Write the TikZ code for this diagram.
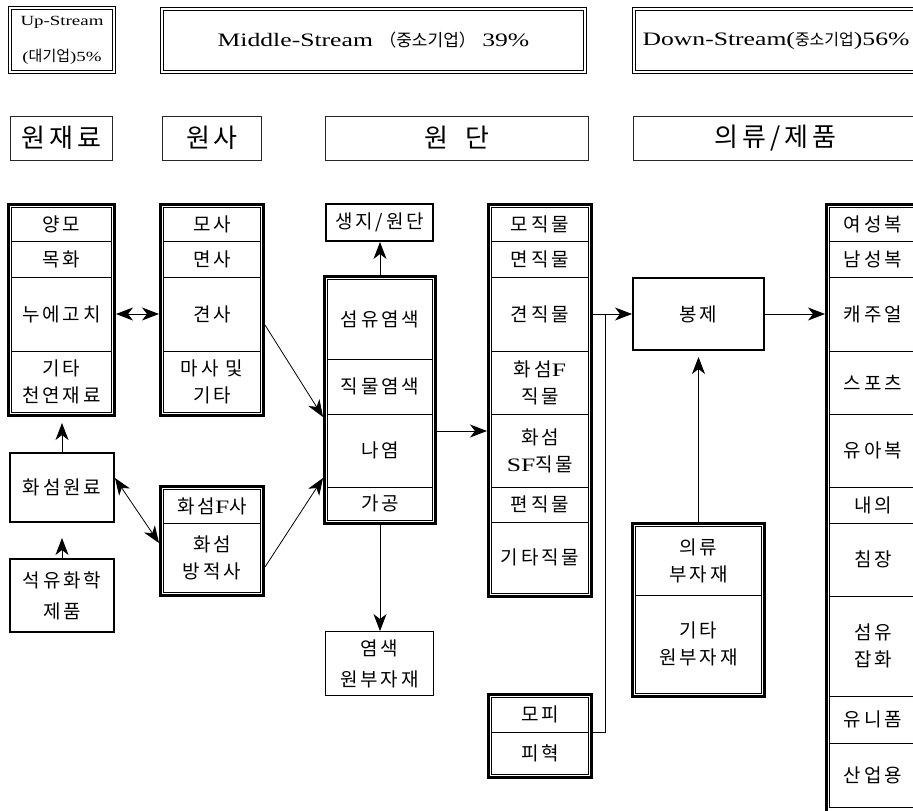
\documentclass[tikz,border=0pt]{standalone}
\usepackage{fontspec}
\setmainfont{Noto Sans CJK KR}
\newfontfamily\kr{Noto Sans CJK KR}[LetterSpace=15]
\newfontfamily\krh{Noto Sans CJK KR}
\newfontfamily\lat{Liberation Serif}[FakeStretch=1.35]
\usetikzlibrary{arrows.meta,calc}
\newcommand{\fs}[2]{\fontsize{#1}{#2}\selectfont}
\tikzset{
  cellbox/.style={draw, line width=0.7pt, inner sep=0pt, align=center, font=\kr\fs{19}{27}},
  framebox/.style={draw, line width=2.8pt, inner sep=0pt},
  singlebox/.style={draw, line width=2pt, inner sep=0pt, align=center, font=\kr\fs{19}{31}},
  thinbox/.style={draw, line width=0.9pt, inner sep=0pt, align=center, font=\kr\fs{19}{31}},
  labelbox/.style={draw=black!85, line width=0.8pt, inner sep=0pt, align=center, font=\kr\fs{26}{30}},
  headbox/.style={draw, double, double distance=2pt, line width=0.8pt, inner sep=0pt, align=center},
  upbox/.style={headbox, font=\fs{14}{36}},
  conn/.style={line width=0.8pt, -{Stealth[length=17pt,width=13pt,inset=5pt]}},
  biconn/.style={line width=0.8pt, {Stealth[length=17pt,width=13pt,inset=5pt]}-{Stealth[length=17pt,width=13pt,inset=5pt]}},
  plainline/.style={line width=0.8pt}
}
% style, name, x1, y1, x2, y2, text  (centre-line coordinates)
\newcommand{\bx}[7]{\node[#1, minimum width={#5-#3}, minimum height={#6-#4}] (#2) at ({(#3+#5)/2},{(#4+#6)/2}) {#7};}
% frame from outer extents
\newcommand{\frm}[5]{\node[framebox, minimum width={#4-#2-2.8}, minimum height={#5-#3-2.8}] (#1) at ({(#2+#4)/2},{(#3+#5)/2}) {};}
\begin{document}
\begin{tikzpicture}[x=1pt,y=-1pt]
\useasboundingbox (0,0) rectangle (913,811);

% ---------- headers ----------
\bx{upbox}{H1}{9.8}{7.8}{114.2}{72.2}{\raisebox{-3pt}{\lat Up-Stream}\\\raisebox{-3pt}{{\lat (}{\krh\fs{15}{36}대기업}{\lat )5\%}}}
\bx{headbox}{H2}{161.8}{8.8}{585.2}{72.2}{{\lat\fs{19}{24}Middle-Stream }{\krh\fs{17}{24}（중소기업）}{\lat\fs{19}{24} 39\%}}
\bx{headbox}{H3}{633.8}{8.8}{918.2}{72.2}{{\lat\fs{19}{24}Down-Stream(}{\krh\fs{16}{24}중소기업}{\lat\fs{19}{24})56\%}}

% ---------- category labels ----------
\bx{labelbox}{L1}{10.5}{116}{112.5}{160}{원재료}
\bx{labelbox}{L2}{162.5}{116}{261.5}{160}{원사}
\bx{labelbox}{L3}{325.5}{116}{588.5}{160}{원\hspace{17pt}단}
\bx{labelbox}{L4}{633.5}{116}{917}{160}{의류/제품}

% ---------- column 1 ----------
\frm{F1}{7}{203}{116}{417}
\bx{cellbox}{a1}{11.5}{207.5}{111.5}{241}{양모}
\bx{cellbox}{a2}{11.5}{241}{111.5}{277}{목화}
\bx{cellbox}{a3}{11.5}{277}{111.5}{351}{누에고치}
\bx{cellbox}{a4}{11.5}{351}{111.5}{412.5}{기타\\천연재료}

% ---------- column 2 ----------
\frm{F2}{159}{203}{265}{417}
\bx{cellbox}{b1}{163.5}{207.5}{260.5}{241}{모사}
\bx{cellbox}{b2}{163.5}{241}{260.5}{277}{면사}
\bx{cellbox}{b3}{163.5}{277}{260.5}{351}{견사}
\bx{cellbox}{b4}{163.5}{351}{260.5}{412.5}{마사 및\\기타}

% ---------- synthetic yarn ----------
\frm{F6}{159}{485}{265}{597}
\bx{cellbox}{f1}{163.5}{489.5}{260.5}{523}{화섬{\lat F}사}
\bx{cellbox}{f2}{163.5}{523}{260.5}{592.5}{화섬\\방적사}

% ---------- single boxes left ----------
\bx{singlebox}{B1}{10}{453}{114}{522}{화섬원료}
\bx{singlebox}{B2}{10}{559}{114}{632}{석유화학\\제품}

% ---------- fabric processing ----------
\bx{singlebox}{B3}{326}{204}{433}{241}{생지/원단}
\frm{F3}{323}{275}{437}{525}
\bx{cellbox}{c1}{327.5}{279.5}{432.5}{359}{섬유염색}
\bx{cellbox}{c2}{327.5}{359}{432.5}{414}{직물염색}
\bx{cellbox}{c3}{327.5}{414}{432.5}{487}{나염}
\bx{cellbox}{c4}{327.5}{487}{432.5}{520.5}{가공}
\bx{thinbox}{B4}{325.5}{631.5}{433.5}{695.5}{염색\\원부자재}

% ---------- fabrics ----------
\frm{F4}{487}{203}{593}{598}
\bx{cellbox}{d1}{491.5}{207.5}{588.5}{241}{모직물}
\bx{cellbox}{d2}{491.5}{241}{588.5}{277}{면직물}
\bx{cellbox}{d3}{491.5}{277}{588.5}{351}{견직물}
\bx{cellbox}{d4}{491.5}{351}{588.5}{414}{화섬{\lat F}\\직물}
\bx{cellbox}{d5}{491.5}{414}{588.5}{487}{화섬\\{\lat SF}직물}
\bx{cellbox}{d6}{491.5}{487}{588.5}{522}{편직물}
\bx{cellbox}{d7}{491.5}{522}{588.5}{593.5}{기타직물}

\frm{F7}{487}{693}{593}{779}
\bx{cellbox}{g1}{491.5}{697.5}{588.5}{732}{모피}
\bx{cellbox}{g2}{491.5}{732}{588.5}{774.5}{피혁}

% ---------- sewing ----------
\bx{singlebox}{B5}{633}{278}{764}{350}{봉제}
\frm{F8}{631}{522}{766}{698}
\bx{cellbox}{h1}{635.5}{526.5}{761.5}{595}{의류\\부자재}
\bx{cellbox}{h2}{635.5}{595}{761.5}{693.5}{기타\\원부자재}

% ---------- products ----------
\frm{F5}{825}{203}{921}{815}
\bx{cellbox}{e1}{829.5}{207.5}{916.5}{241}{여성복}
\bx{cellbox}{e2}{829.5}{241}{916.5}{277}{남성복}
\bx{cellbox}{e3}{829.5}{277}{916.5}{351}{캐주얼}
\bx{cellbox}{e4}{829.5}{351}{916.5}{414}{스포츠}
\bx{cellbox}{e5}{829.5}{414}{916.5}{487}{유아복}
\bx{cellbox}{e6}{829.5}{487}{916.5}{523}{내의}
\bx{cellbox}{e7}{829.5}{523}{916.5}{596}{침장}
\bx{cellbox}{e8}{829.5}{596}{916.5}{696}{섬유\\잡화}
\bx{cellbox}{e9}{829.5}{696}{916.5}{743}{유니폼}
\bx{cellbox}{e10}{829.5}{743}{916.5}{807}{산업용}

% ---------- connectors ----------
\draw[biconn] (F1.east |- a3) -- (F2.west |- a3);
\draw[conn, shorten >=6pt] (B1.north) -- (B1.north |- F1.south);
\draw[conn, shorten >=15pt] (B2.north) -- (B2.north |- B1.south);
\draw[biconn] ([yshift=9.5pt]B1.east) -- ([yshift=-2pt]F6.west);
\draw[conn] ([yshift=-15pt]F2.east) -- ([yshift=-17pt]F3.west);
\draw[conn] ([yshift=-26pt]F6.east) -- ([yshift=-78pt]F3.west);
\draw[conn] (F3.north) -- (F3.north |- B3.south);
\draw[conn] (F3.south) -- (F3.south |- B4.north);
\draw[conn] ([yshift=-31pt]F3.east) -- ([yshift=-31pt]F3.east -| F4.west);
\coordinate (J) at (605,314);
\draw[conn] (F4.east |- B5) -- (B5.west);
\draw[plainline] ([yshift=4pt]F7.east) -| (J);
\draw[conn] (B5.east) -- (B5.east -| F5.west);
\draw[conn, shorten >=6pt] (F8.north) -- (F8.north |- B5.south);
\end{tikzpicture}
\end{document}
